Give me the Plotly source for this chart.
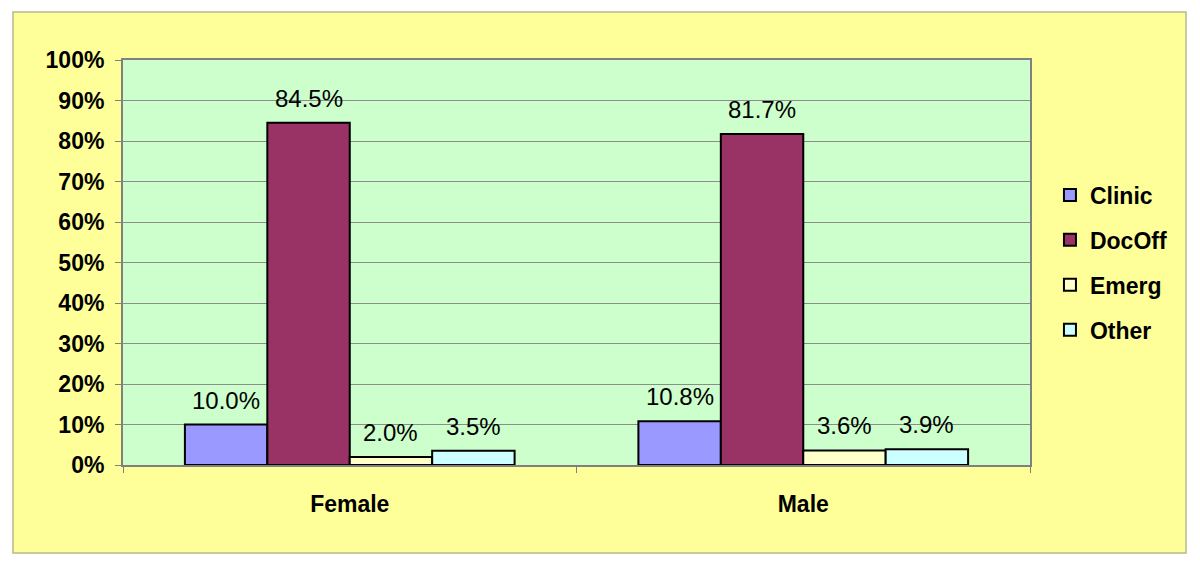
import plotly.graph_objects as go

genders = ['Female', 'Male']
series_names = ['Clinic', 'DocOff', 'Emerg', 'Other']
clinic = [0.100, 0.108]
docoff = [0.845, 0.817]
emerg = [0.020, 0.036]
other = [0.035, 0.039]

colors = ['#9999FF', '#993366', '#FFFFCC', '#CCFFFF']
bargap = 0.273

fig = go.Figure()

all_series = [clinic, docoff, emerg, other]
bar_w = (1 - bargap) / len(all_series)  # width of one bar in category units

for i, (name, vals) in enumerate(zip(series_names, all_series)):
    fig.add_trace(go.Bar(
        x=genders,
        y=vals,
        name=name,
        legendgroup=name,
        marker=dict(color=colors[i], line=dict(color='black', width=2)),
    ))
    # value labels, floated a little above the bars like Excel does
    for j, v in enumerate(vals):
        fig.add_annotation(
            x=j + (i - (len(all_series) - 1) / 2) * bar_w, y=v,
            xref='x', yref='y',
            text=f'{v:.1%}', showarrow=False,
            yanchor='bottom', yshift=9,
            font=dict(family='Liberation Sans, Arial', size=24, color='black'),
        )

# outer yellow chart area + green plot area
fig.add_shape(type='rect', xref='paper', yref='paper', x0=-0.1213, x1=1.172, y0=-0.217, y1=1.1185,
              fillcolor='#FFFF99', line=dict(color='#B8B890', width=1.5), layer='below')
fig.add_shape(type='rect', xref='paper', yref='paper', x0=0, x1=1, y0=0, y1=1,
              fillcolor='#CCFFCC', line=dict(width=0), layer='below')

# page body has an 8px margin, so the figure is sized/offset to compensate
fig.update_layout(
    width=1192,
    height=557,
    barmode='group',
    bargap=bargap,
    bargroupgap=0,
    paper_bgcolor='white',
    plot_bgcolor='rgba(0,0,0,0)',
    margin=dict(l=115, r=170, t=52, b=100),
    font=dict(family='Liberation Sans, Arial', color='black'),
    showlegend=True,
    legend=dict(
        x=1.022, y=0.5, xanchor='left', yanchor='middle',
        bgcolor='rgba(0,0,0,0)',
        font=dict(size=23, family='Liberation Sans, Arial', weight='bold'),
        tracegroupgap=12,
    ),
    xaxis=dict(
        showline=True, linecolor='#808080', linewidth=2, mirror=True,
        ticks='outside', tickson='boundaries', ticklen=6, tickcolor='#808080',
        tickfont=dict(size=23, weight='bold'),
        ticklabelstandoff=17,
    ),
    yaxis=dict(
        range=[0, 1], dtick=0.1, tickformat='.0%',
        showgrid=True, gridcolor='#8C8C8C', gridwidth=1,
        showline=True, linecolor='#808080', linewidth=2, mirror=True,
        ticks='outside', ticklen=6, tickcolor='#808080',
        tickfont=dict(size=23, weight='bold'),
        ticklabelstandoff=6,
        zeroline=False,
    ),
)

fig.write_html("out.html")
